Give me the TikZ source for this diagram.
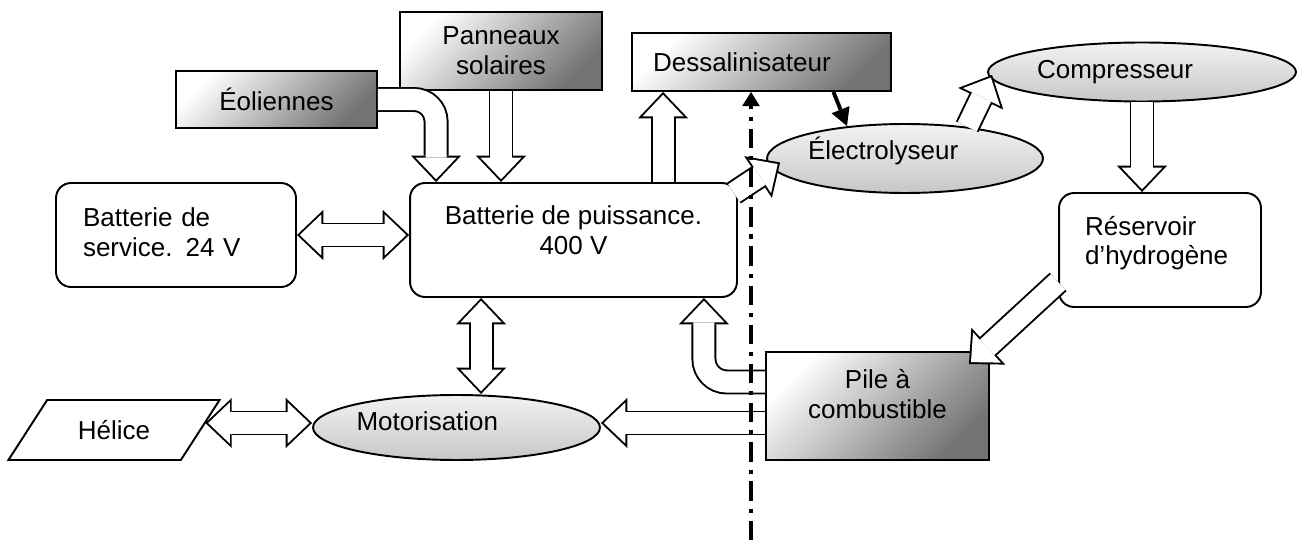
\documentclass[tikz,border=0pt]{standalone}
\usepackage{fontspec}
\setmainfont{Liberation Sans}
\usetikzlibrary{shapes.geometric,arrows.meta,calc}

\tikzset{
  box/.style={draw, line width=1.1pt, rectangle, align=center,
    font=\fontsize{14.8}{17}\selectfont},
  grad/.style={box, left color=white, right color=black!55, shading angle=45},
  rbox/.style={box, fill=white, rounded corners=0.3cm},
  oval/.style={box, ellipse, inner sep=0pt, align=left,
    top color=black!5, bottom color=black!22},
  hollow/.style={line width=12pt, white, shorten >=1.6pt,
    -{Triangle[length=12.3pt,width=23.4pt,line width=0pt]},
    preaction={draw, black, line width=14.2pt, shorten >=0pt,
      -{Triangle[length=15pt,width=28.5pt,line width=0pt]}}},
  hollow2/.style={line width=12pt, white, shorten >=1.6pt, shorten <=1.6pt,
    {Triangle[length=12.3pt,width=23.4pt,line width=0pt]}-{Triangle[length=12.3pt,width=23.4pt,line width=0pt]},
    preaction={draw, black, line width=14.2pt, shorten >=0pt, shorten <=0pt,
      {Triangle[length=15pt,width=28.5pt,line width=0pt]}-{Triangle[length=15pt,width=28.5pt,line width=0pt]}}},
  thk/.style={line width=2.2pt, -{Triangle[length=10pt,width=11pt,line width=0pt]}},
  axe/.style={line width=2.3pt, dash pattern=on 11pt off 4.5pt on 2.3pt off 4.5pt,
    -{Triangle[length=8pt,width=10pt,line width=0pt]}},
}

\begin{document}
\begin{tikzpicture}[x=0.02cm, y=-0.02cm]
  \useasboundingbox (0,0) rectangle (1298,540);
  % sources
  \node[grad, minimum width=4.02cm, minimum height=1.14cm] (eol) at (276.5,99.5) {Éoliennes};
  \node[grad, minimum width=4.04cm, minimum height=1.56cm] (pan) at (501,51) {Panneaux\\solaires};
  \node[grad, minimum width=5.18cm, minimum height=1.16cm, text width=4.34cm, align=left] (des) at (761.5,62) {Dessalinisateur};
  \node[oval, minimum width=6.16cm, minimum height=1.18cm, text width=4.2cm] (com) at (1142,72) {Compresseur};
  \node[oval, minimum width=5.52cm, minimum height=1.38cm, text width=3.88cm, text height=4pt] (ele) at (905,158.5) {Électrolyseur};
  % batteries
  \node[rbox, minimum width=4.8cm, minimum height=2.08cm, text width=3.72cm, align=left, text height=7.5pt] (serv) at (176,235) {Batterie de\\service. 24 V};
  \node[rbox, minimum width=6.54cm, minimum height=2.28cm, text height=16.6pt] (puis) at (573.5,240) {Batterie de puissance.\\400 V};
  \node[rbox, minimum width=4.04cm, minimum height=2.28cm, text width=3cm, align=left, text height=3pt] (res) at (1160,250) {Réservoir\\d’hydrogène};
  \node[grad, minimum width=4.46cm, minimum height=2.16cm, text height=14.4pt] (pile) at (877.5,406) {Pile à\\combustible};
  % propulsion
  \node[oval, minimum width=5.74cm, minimum height=1.3cm, text width=4cm, text height=4pt] (mot) at (456.5,427.5) {Motorisation};
  \node[box, trapezium, trapezium left angle=52, trapezium right angle=128, trapezium stretches=true,
    minimum width=4.24cm, minimum height=1.2cm, fill=white] (hel) at (114,430) {Hélice};

  \draw[hollow, rounded corners=0.44cm] (eol.east) -| ($(puis.north west)+(27,0)$);
  \draw[hollow] (pan.south) -- (pan.south |- puis.north);
  \draw[hollow] ($(puis.north west)+(254,0)$) coordinate (up) -- (up |- des.south);
  \draw[hollow] ($(puis.north east)+(-4,11)$) -- ($(ele.west)+(14,4)$);
  \draw[thk] ($(des.south)+(72,0)$) -- ($(ele.north)+(-58,3)$);
  \draw[hollow] (ele.27) -- ($(com.west)+(5,3)$);
  \draw[hollow] (com.south) -- (com.south |- res.north);
  \draw[hollow] ($(res.south west)+(0,-26)$) -- ($(pile.north east)+(-21,13)$);
  \draw[hollow, rounded corners=0.46cm] ($(pile.west)+(0,-24)$) -| ($(puis.south east)+(-34,0)$);
  \draw[hollow] ($(pile.west)+(0,17)$) coordinate (pm) -- (pm -| mot.east);
  \draw[hollow2] ($(hel.east)+(4,-7)$) coordinate (hm) -- (hm -| mot.west);
  \draw[hollow2] (serv.east) -- (serv.east -| puis.west);
  \draw[hollow2] ($(puis.south west)+(72,0)$) coordinate (pv) -- (pv |- mot.north);
  \draw[axe] (751,540) coordinate (ax) -- (ax |- des.south);
\end{tikzpicture}
\end{document}
